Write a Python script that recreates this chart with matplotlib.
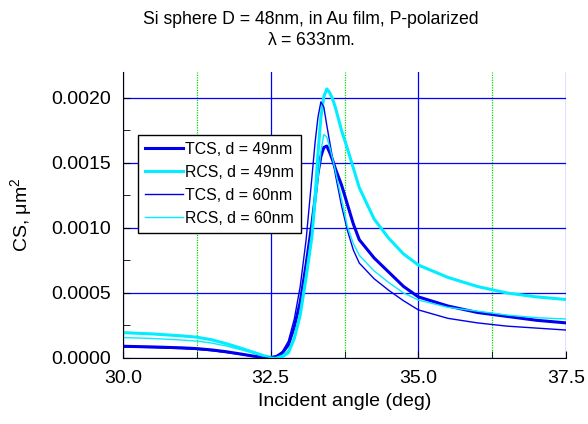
import numpy as np
import matplotlib
matplotlib.use('Agg')
import matplotlib.pyplot as plt
from matplotlib.ticker import MultipleLocator

plt.rcParams['font.family'] = ['Liberation Sans', 'DejaVu Sans']

# incident angle grid (deg)
angle = [30.0, 30.5, 31.0, 31.25, 31.5, 31.75, 32.0, 32.2, 32.4, 32.5,
         32.6, 32.7, 32.8, 32.9, 33.0, 33.1, 33.2, 33.25, 33.3, 33.35,
         33.4, 33.45, 33.5, 33.55, 33.6, 33.7, 33.8, 33.9, 34.0, 34.25,
         34.5, 34.75, 35.0, 35.5, 36.0, 36.5, 37.0, 37.5]

# cross sections, um^2
tcs_49 = [0.000090, 0.000085, 0.000078, 0.000072, 0.000062, 0.000048, 0.000030, 0.000015, 0.000004, 0.000003,
          0.000012, 0.00004, 0.00010, 0.00024, 0.00043, 0.00072, 0.00104, 0.00122, 0.00142, 0.00155,
          0.00162, 0.00163, 0.00158, 0.00152, 0.00145, 0.00133, 0.00118, 0.00103, 0.00091, 0.00077,
          0.00066, 0.00055, 0.00047, 0.00040, 0.00035, 0.00032, 0.00029, 0.00027]
rcs_49 = [0.000195, 0.000185, 0.000170, 0.000160, 0.000140, 0.000110, 0.000075, 0.000045, 0.000015, 0.000005,
          0.000003, 0.00001, 0.00004, 0.00015, 0.00033, 0.00062, 0.00094, 0.00122, 0.00157, 0.00185,
          0.00201, 0.00207, 0.00204, 0.00199, 0.00192, 0.00175, 0.00161, 0.00146, 0.00131, 0.00107,
          0.00092, 0.00080, 0.000715, 0.00062, 0.00055, 0.00050, 0.00047, 0.00045]
tcs_60 = [0.000085, 0.000080, 0.000072, 0.000066, 0.000056, 0.000042, 0.000026, 0.000012, 0.000003, 0.000005,
          0.000015, 0.00005, 0.00013, 0.00030, 0.00055, 0.00091, 0.00140, 0.00165, 0.00185, 0.00197,
          0.00193, 0.00179, 0.00166, 0.00153, 0.00140, 0.00117, 0.00098, 0.00083, 0.00073, 0.00061,
          0.00052, 0.00044, 0.00037, 0.000305, 0.00027, 0.000245, 0.00023, 0.000215]
rcs_60 = [0.000157, 0.000150, 0.000138, 0.000130, 0.000115, 0.000092, 0.000063, 0.000038, 0.000012, 0.000004,
          0.000004, 0.00002, 0.00006, 0.00016, 0.00036, 0.00065, 0.00096, 0.00115, 0.00137, 0.00159,
          0.00172, 0.00170, 0.00162, 0.00153, 0.00143, 0.00122, 0.00101, 0.00088, 0.00079, 0.00067,
          0.00058, 0.00050, 0.000446, 0.00039, 0.00036, 0.00033, 0.00031, 0.00030]

labels = ['TCS, d = 49nm', 'RCS, d = 49nm', 'TCS, d = 60nm', 'RCS, d = 60nm']

fig = plt.figure(figsize=(5.88, 4.24), dpi=100)
ax = fig.add_axes([0.2092, 0.1557, 0.7534, 0.6745])

ax.plot(angle, tcs_49, color='#0000ee', lw=2.2, label=labels[0])
ax.plot(angle, rcs_49, color='#00eeff', lw=2.2, label=labels[1])
ax.plot(angle, tcs_60, color='#0000ee', lw=1.0, label=labels[2])
ax.plot(angle, rcs_60, color='#00eeff', lw=1.0, label=labels[3])

ax.set_xlim(30, 37.5)
ax.set_ylim(0, 0.0022)
ax.xaxis.set_major_locator(MultipleLocator(2.5))
ax.xaxis.set_minor_locator(MultipleLocator(1.25))
ax.yaxis.set_major_locator(MultipleLocator(0.0005))
ax.yaxis.set_minor_locator(MultipleLocator(0.00025))
ax.xaxis.set_major_formatter(plt.FormatStrFormatter('%.1f'))
ax.yaxis.set_major_formatter(plt.FormatStrFormatter('%.4f'))

ax.grid(which='major', color='#0000ff', lw=0.9)
ax.grid(which='minor', axis='x', color='#00dd00', lw=0.9, ls=(0, (1, 1)))
ax.set_axisbelow(True)

for s in ['top', 'right']:
    ax.spines[s].set_visible(False)
ax.tick_params(which='both', direction='in', labelsize=14, pad=9)
ax.tick_params(which='major', length=5)
ax.tick_params(which='minor', length=5)

ax.set_xlabel('Incident angle (deg)', fontsize=14)
ax.set_ylabel('CS, $\\mathregular{\\mu m^2}$', fontsize=14, labelpad=12)

fig.text(0.529, 0.93, 'Si sphere D = 48nm, in Au film, P-polarized\n$\\mathregular{\\lambda}$ = 633nm.',
         ha='center', va='center', fontsize=12.7, linespacing=1.3)

leg = ax.legend(loc='upper left', bbox_to_anchor=(0.033, 0.78), borderaxespad=0,
                fontsize=11.4, handlelength=2.4, handletextpad=0.15, borderpad=0.45,
                labelspacing=0.5, fancybox=False, framealpha=1)
leg.get_frame().set_edgecolor('black')
leg.get_frame().set_linewidth(1.0)

fig.savefig('out.png', dpi=100)
